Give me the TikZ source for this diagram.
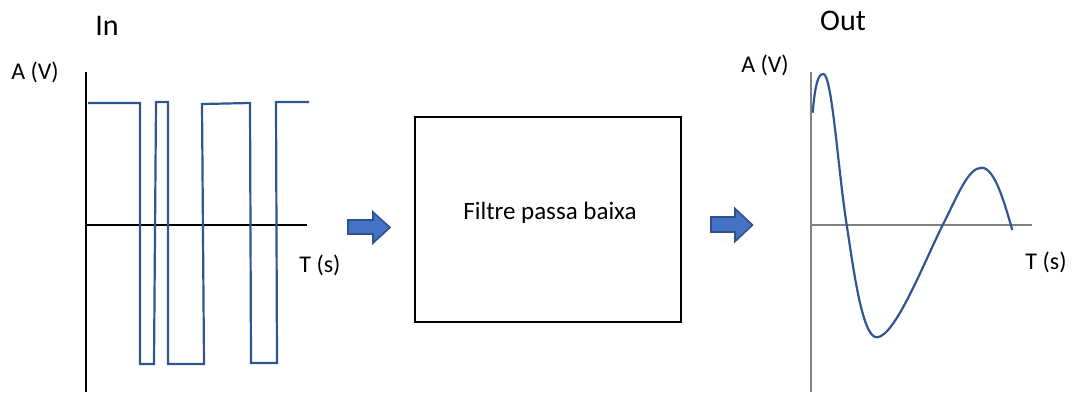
\documentclass[tikz,border=0pt]{standalone}
\usepackage{fontspec}
\setmainfont{Carlito}
\usepackage{xcolor}

\begin{document}
\begin{tikzpicture}[x=0.5pt, y=-0.5pt]
	% Define colors
	\definecolor{wave}{RGB}{47,85,151}
	\definecolor{arrowfill}{RGB}{68,114,196}
	\definecolor{arrowdraw}{RGB}{47,82,143}
	\definecolor{axisgray}{RGB}{128,128,128}
	\tikzset{
		axislabel/.style={font=\fontsize{12}{14}\selectfont},
		titlelabel/.style={font=\fontsize{15}{17}\selectfont},
		blockarrow/.style={fill=arrowfill, draw=arrowdraw, line width=0.8pt, line join=miter}
	}
	\useasboundingbox (0,0) rectangle (1074,392);

	% Input signal: axes
	\coordinate (inorigin) at (86,225);
	\coordinate (intop) at (86,72);
	\coordinate (inbottom) at (86,392);
	\coordinate (inright) at (307,225);
	\draw[line width=0.6pt] (intop) -- (inbottom);
	\draw[line width=0.6pt] (inorigin) -- (inright);
	\node[titlelabel] (intitle) at (107,26) {In};
	\node[axislabel] (inamp) at (35,72) {A (V)};
	\node[axislabel] (intime) at (320,265) {T (s)};

	% Input signal: square wave
	\draw[wave, line width=1.1pt, line join=miter]
		(88,103) -- (140,103) -- (140,364) -- (154,364) -- (156,102)
		-- (168,102) -- (168,364) -- (204,364) -- (202,104) -- (250,103)
		-- (251,363) -- (277,363) -- (276,102) -- (309,102);

	% Block arrows
	\filldraw[blockarrow] (348,220) -- (373,220) -- (373,212) -- (390,227.5)
		-- (373,243) -- (373,234) -- (348,234) -- cycle;
	\filldraw[blockarrow] (711,217) -- (735,217) -- (735,208.5) -- (752.5,225)
		-- (735,241.5) -- (735,232) -- (711,232) -- cycle;

	% Filter box
	\node[draw, line width=1pt, minimum width=133pt, minimum height=102.5pt,
		inner sep=0pt] (filtre) at (548,219.5) {};
	\node[font=\fontsize{12.5}{14}\selectfont] (filtretext) at (550,213) {Filtre passa baixa};

	% Output signal: axes
	\coordinate (outorigin) at (811,225);
	\coordinate (outtop) at (811,72);
	\coordinate (outbottom) at (811,392);
	\coordinate (outright) at (1032,225);
	\draw[axisgray, line width=0.7pt] (outtop) -- (outbottom);
	\draw[axisgray, line width=0.7pt] (outorigin) -- (outright);
	\node[titlelabel] (outtitle) at (843,21) {Out};
	\node[axislabel] (outamp) at (765,65) {A (V)};
	\node[axislabel] (outtime) at (1046,262) {T (s)};

	% Output signal: damped response
	\draw[wave, line width=1.1pt] (812.7,112.7)
		.. controls (815,85) and (818,74) .. (823.3,74)
		.. controls (832,74) and (838,170) .. (846.7,225)
		.. controls (853,265.5) and (862,337.3) .. (876.7,337.3)
		.. controls (895,337.3) and (925,260) .. (942.7,225)
		.. controls (958,195) and (968,167.7) .. (981.7,167.7)
		.. controls (995,167.7) and (1005,205) .. (1012.3,230);
\end{tikzpicture}
\end{document}
